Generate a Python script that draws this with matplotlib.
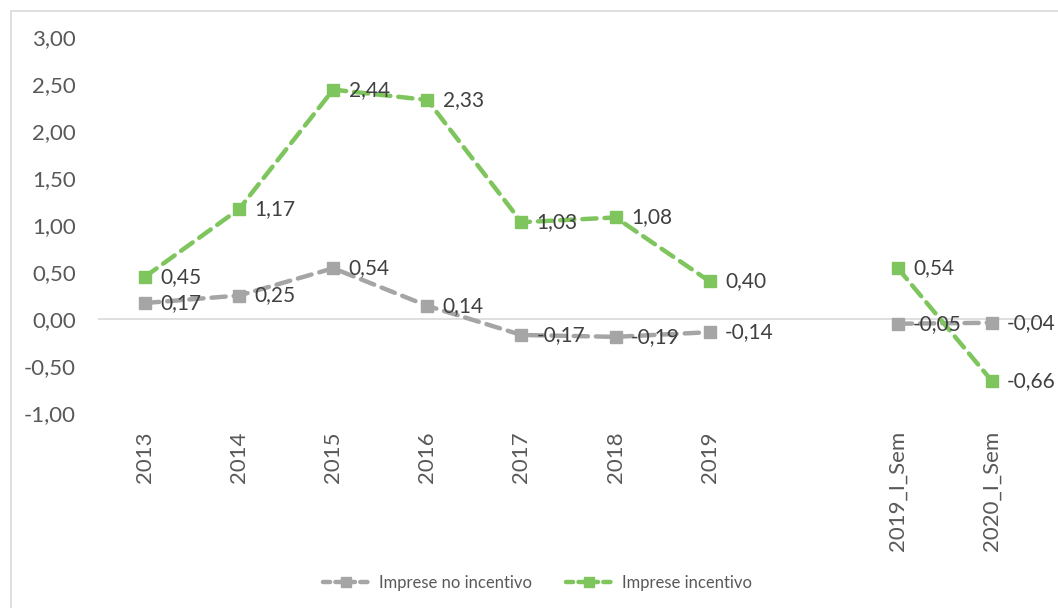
import numpy as np
import matplotlib
matplotlib.use("Agg")
import matplotlib.pyplot as plt
from matplotlib.patches import Rectangle
from matplotlib.lines import Line2D

plt.rcParams['font.family'] = ['Lato', 'DejaVu Sans']

categories = ["2013", "2014", "2015", "2016", "2017", "2018", "2019", "",
              "2019_I_Sem", "2020_I_Sem"]
no_incentivo = [0.17, 0.25, 0.54, 0.14, -0.17, -0.19, -0.14, np.nan, -0.05, -0.04]
incentivo = [0.45, 1.17, 2.44, 2.33, 1.03, 1.08, 0.40, np.nan, 0.54, -0.66]
y_ticks = [-1.0, -0.5, 0.0, 0.5, 1.0, 1.5, 2.0, 2.5, 3.0]

GRAY = "#A5A5A5"
GREEN = "#7DC55C"
TEXT = "#404040"
TICK = "#595959"

fig = plt.figure(figsize=(10.58, 6.08), dpi=100)
ax = fig.add_axes([98 / 1058, 1 - 413 / 608, (1039 - 98) / 1058, (413 - 37) / 608])

x = np.arange(len(categories))
series = [("Imprese no incentivo", no_incentivo, GRAY),
          ("Imprese incentivo", incentivo, GREEN)]

handles = []
for name, vals, col in series:
    ax.plot(x, vals, color=col, lw=3.2, ls=(0, (3.2, 1.8)), marker="s",
            markersize=8.5, markerfacecolor=col, markeredgecolor=col,
            dash_capstyle="round", zorder=3)
    handles.append(Line2D([], [], color=col, lw=3.2, ls=(0, (1.6, 1.2)), marker="s",
                          markersize=7, dash_capstyle="round", label=name))
    for xi, v in zip(x, vals):
        if np.isnan(v):
            continue
        ax.annotate(f"{v:.2f}".replace(".", ","), (xi, v), xytext=(11, 0),
                    textcoords="offset points", ha="left", va="center",
                    fontsize=15, color=TEXT, zorder=4)

ax.axhline(0, color="#D9D9D9", lw=1.2, zorder=1)
ax.set_xlim(-0.5, len(categories) - 0.5)
ax.set_ylim(-1, 3)
ax.set_yticks(y_ticks)
ax.set_yticklabels([f"{t:.2f}".replace(".", ",") for t in y_ticks])
ax.set_xticks(x)
ax.set_xticklabels(categories, rotation=90, va="top", ha="center")
for s in ax.spines.values():
    s.set_visible(False)
ax.tick_params(axis="both", length=0, labelsize=16, colors=TICK)
ax.tick_params(axis="x", pad=13)
ax.tick_params(axis="y", pad=16)

fig.legend(handles=handles, loc="center", bbox_to_anchor=(0.508, 1 - 583 / 608),
           ncol=2, frameon=False, fontsize=12, handlelength=2.8,
           handletextpad=0.6, columnspacing=2.0, labelcolor=TICK)

fig.add_artist(Rectangle((11 / 1058, -0.05), 1.1, 1 - 11 / 608 + 0.05,
                         transform=fig.transFigure, fill=False,
                         edgecolor="#D9D9D9", lw=1.2))

fig.savefig("out.png", dpi=100)
